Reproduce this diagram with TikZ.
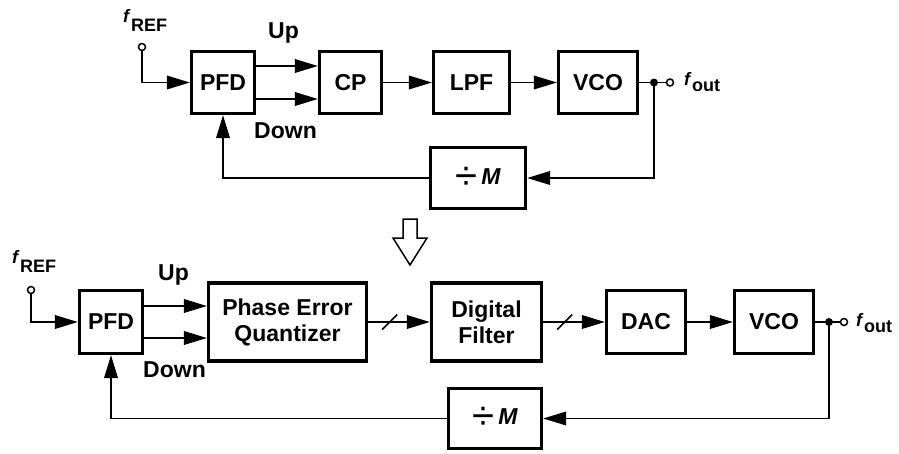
\documentclass[tikz,border=0pt]{standalone}
\usepackage{fontspec}
\setmainfont{Liberation Sans}
\usetikzlibrary{arrows.meta,calc}
\begin{document}
\begin{tikzpicture}[x=1pt,y=-1pt,
  blk/.style={draw, line width=3.2pt, inner sep=0pt, align=center,
    font=\fontsize{23}{26}\selectfont\bfseries},
  sig/.style={line width=1.9pt, -{Triangle[length=23pt,width=13.5pt]}},
  wire/.style={line width=1.9pt},
  lbl/.style={inner sep=0pt, font=\fontsize{23}{26}\selectfont\bfseries},
  term/.style={circle, draw, fill=white, line width=1.5pt, inner sep=0pt, minimum size=7pt},
  jdot/.style={circle, fill=black, inner sep=0pt, minimum size=8pt},
  freq/.style={inner sep=0pt, anchor=base west, font=\fontsize{18}{18}\selectfont\bfseries}
]
\useasboundingbox (0,0) rectangle (899,453);

% ---------------- analog PLL ----------------
\node[blk, minimum width=63pt, minimum height=62pt] (pfdA) at (223,82.5) {PFD};
\node[blk, minimum width=62pt, minimum height=62pt] (cpA)  at (350.5,82.5) {CP};
\node[blk, minimum width=76pt, minimum height=62pt] (lpfA) at (471.5,82.5) {LPF};
\node[blk, minimum width=79pt, minimum height=62pt] (vcoA) at (598,82.5) {VCO};
\node[blk, minimum width=95pt, minimum height=61pt] (divA) at (478,178)
  {\raisebox{-5pt}{\fontsize{40}{40}\selectfont\mdseries ÷}\hspace{4pt}\itshape M};

\node[term] (inA) at (142,47) {};
\node[term] (outA) at (670,82.5) {};
\coordinate (jA) at (654,82.5);

\node[freq] (frefA) at (123,22) {\itshape f\hspace{2pt}\upshape\raisebox{-9pt}{REF}};
\node[freq] (foutA) at (684,85) {\itshape f\hspace{2pt}\upshape\raisebox{-6pt}{out}};
\node[lbl, anchor=base west] (upA) at (268,38) {Up};
\node[lbl, anchor=base west] (downA) at (254,138) {Down};

\draw[sig] (inA.south) |- (pfdA.west);
\draw[sig] ([yshift=16.5pt]pfdA.east) -- ([yshift=16.5pt]cpA.west);
\draw[sig] ([yshift=-16.5pt]pfdA.east) -- ([yshift=-16.5pt]cpA.west);
\draw[sig] (cpA.east) -- (lpfA.west);
\draw[sig] (lpfA.east) -- (vcoA.west);
\draw[wire] (vcoA.east) -- (outA.west);
\draw[sig] (jA) |- (divA.east);
\draw[sig] (divA.west) -| (pfdA.south);
\node[jdot] at (jA) {};

% ---------------- transition arrow ----------------
\draw[line width=1.5pt, line join=miter]
  (403,219) -- (417,219) -- (417,238) -- (427,238) -- (410,265)
  -- (393,238) -- (403,238) -- cycle;

% ---------------- digital PLL ----------------
\node[blk, minimum width=63pt, minimum height=63pt] (pfdB) at (111,322) {PFD};
\node[blk, minimum width=158pt, minimum height=78pt] (peqB) at (287.5,322) {Phase Error\\Quantizer};
\node[blk, minimum width=110pt, minimum height=78pt] (dfB)  at (486.5,322) {Digital\\Filter};
\node[blk, minimum width=79pt, minimum height=63pt] (dacB) at (646,322) {DAC};
\node[blk, minimum width=79pt, minimum height=63pt] (vcoB) at (774,322) {VCO};
\node[blk, minimum width=93pt, minimum height=60pt] (divB) at (495,418.5)
  {\raisebox{-5pt}{\fontsize{40}{40}\selectfont\mdseries ÷}\hspace{4pt}\itshape M};

\node[term] (inB) at (31,290) {};
\node[term] (outB) at (844,322) {};
\coordinate (jB) at (829,322);

\node[freq] (frefB) at (12,263) {\itshape f\hspace{2pt}\upshape\raisebox{-9pt}{REF}};
\node[freq] (foutB) at (856,326) {\itshape f\hspace{2pt}\upshape\raisebox{-6pt}{out}};
\node[lbl, anchor=base west] (upB) at (158,280) {Up};
\node[lbl, anchor=base west] (downB) at (143,377) {Down};

\draw[sig] (inB.south) |- (pfdB.west);
\draw[sig] ([yshift=16pt]pfdB.east) -- ([yshift=16pt]peqB.west);
\draw[sig] ([yshift=-16pt]pfdB.east) -- ([yshift=-16pt]peqB.west);
\draw[sig] (peqB.east) -- (dfB.west);
\draw[sig] (dfB.east) -- (dacB.west);
\draw[sig] (dacB.east) -- (vcoB.west);
\draw[wire] (vcoB.east) -- (outB.west);
\draw[sig] (jB) |- (divB.east);
\draw[sig] (divB.west) -| (pfdB.south);
\node[jdot] at (jB) {};

% bus markers on the multi-bit lines
\coordinate (busA) at ($(peqB.east)!0.35!(dfB.west)$);
\coordinate (busB) at ($(dfB.east)!0.35!(dacB.west)$);
\draw[line width=1.5pt] ([shift={(-7.5,7.5)}]busA) -- ([shift={(7.5,-7.5)}]busA);
\draw[line width=1.5pt] ([shift={(-7.5,7.5)}]busB) -- ([shift={(7.5,-7.5)}]busB);
\end{tikzpicture}
\end{document}
